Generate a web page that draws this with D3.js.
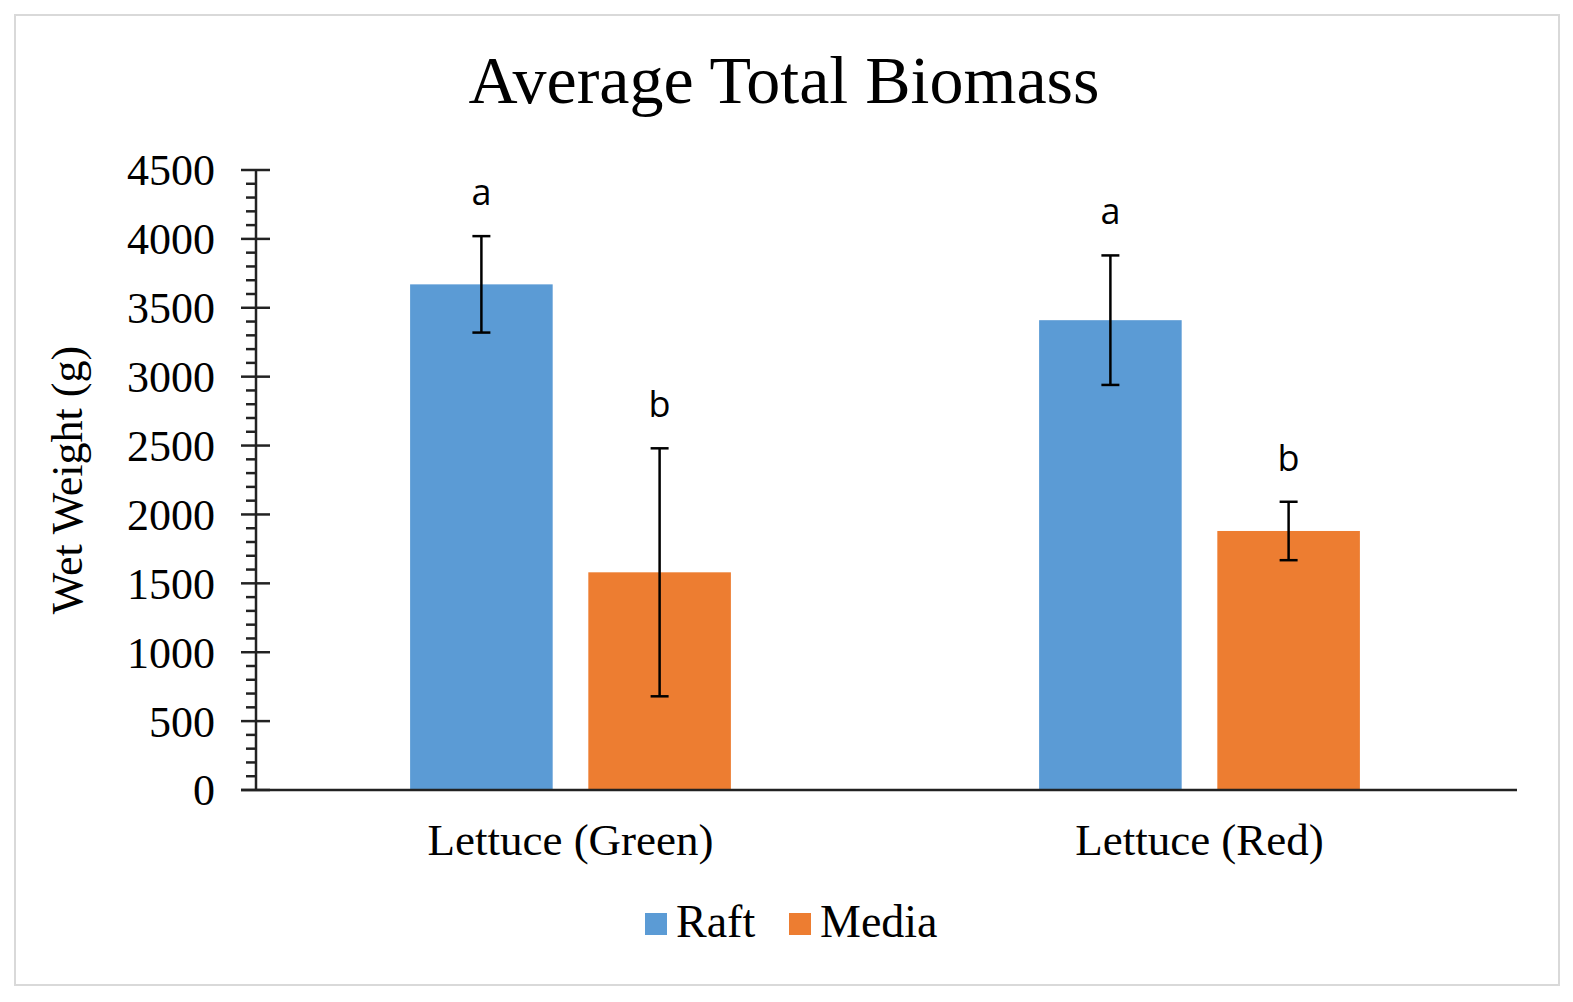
<!DOCTYPE html>
<html>
<head>
<meta charset="utf-8">
<script src="https://cdn.jsdelivr.net/npm/d3@7"></script>
<style>
  html, body { margin: 0; padding: 0; background: #fff; }
  text { font-family: "Liberation Serif", "Times New Roman", serif; fill: #000; }
</style>
</head>
<body>
<div id="chart"></div>
<script>

// Chart data

var categories = [ "Lettuce (Green)", "Lettuce (Red)" ];
var series = [ "Raft", "Media" ];
var colors = [ "#5b9bd5", "#ed7d31" ];
var raftValues = [ 3670, 3410 ];
var mediaValues = [ 1580, 1880 ];
var raftErrors = [ 350, 470 ];
var mediaErrors = [ 900, 212 ];
var raftLetters = [ "a", "a" ];
var mediaLetters = [ "b", "b" ];
var yTicks = [ 0, 500, 1000, 1500, 2000, 2500, 3000, 3500, 4000, 4500 ];

var rows = [];
categories.forEach( function ( c, i ) {
    rows.push({ cat: c, s: "Raft", v: raftValues[i], e: raftErrors[i], l: raftLetters[i] });
    rows.push({ cat: c, s: "Media", v: mediaValues[i], e: mediaErrors[i], l: mediaLetters[i] });
});

var width = 1573, height = 1002;
var plotLeft = 256, plotRight = 1514, plotTop = 170, plotBottom = 790;

var svg = d3.select("#chart").append("svg")
    .attr("width", width)
    .attr("height", height);

// Outer border

svg.append("rect")
    .attr("x", 15)
    .attr("y", 15)
    .attr("width", 1544)
    .attr("height", 970)
    .style("fill", "#fff")
    .style("stroke", "#d9d9d9")
    .style("stroke-width", 2);

// Scales

var x0 = d3.scaleBand()
    .domain(categories)
    .range([ plotLeft, plotRight ])
    .paddingInner(0.49)
    .paddingOuter(0.245);

var x1 = d3.scaleBand()
    .domain(series)
    .range([ 0, x0.bandwidth() ])
    .paddingInner(0.2);

var y = d3.scaleLinear()
    .domain([ 0, 4500 ])
    .range([ plotBottom, plotTop ]);

var color = d3.scaleOrdinal().domain(series).range(colors);

// Bars

svg.append("g")
    .selectAll("rect")
    .data(rows)
    .enter().append("rect")
    .attr("x", function ( d ) { return x0(d.cat) + x1(d.s); })
    .attr("y", function ( d ) { return y(d.v); })
    .attr("width", x1.bandwidth())
    .attr("height", function ( d ) { return y(0) - y(d.v); })
    .style("fill", function ( d ) { return color(d.s); });

// Error bars

var err = svg.append("g")
    .selectAll("g")
    .data(rows)
    .enter().append("g")
    .style("stroke", "#000")
    .style("stroke-width", 2.5);

var cx = function ( d ) { return x0(d.cat) + x1(d.s) + x1.bandwidth() / 2; };

err.append("line")
    .attr("x1", cx).attr("x2", cx)
    .attr("y1", function ( d ) { return y(d.v + d.e); })
    .attr("y2", function ( d ) { return y(d.v - d.e); });

err.append("line")
    .attr("x1", function ( d ) { return cx(d) - 9; })
    .attr("x2", function ( d ) { return cx(d) + 9; })
    .attr("y1", function ( d ) { return y(d.v + d.e); })
    .attr("y2", function ( d ) { return y(d.v + d.e); });

err.append("line")
    .attr("x1", function ( d ) { return cx(d) - 9; })
    .attr("x2", function ( d ) { return cx(d) + 9; })
    .attr("y1", function ( d ) { return y(d.v - d.e); })
    .attr("y2", function ( d ) { return y(d.v - d.e); });

// Significance letters

svg.append("g")
    .selectAll("text")
    .data(rows)
    .enter().append("text")
    .attr("x", cx)
    .attr("y", function ( d ) { return y(d.v + d.e) - 31; })
    .attr("text-anchor", "middle")
    .style("font-family", "'Open Sans', 'Liberation Sans', sans-serif")
    .style("font-size", "36px")
    .text(function ( d ) { return d.l; });

// Y axis

var minor = d3.range(0, 4501, 100).filter(function ( v ) { return v % 500 !== 0; });

var yAxis = svg.append("g")
    .attr("transform", "translate(" + plotLeft + ",0)");

yAxis.append("line")
    .attr("x1", 0).attr("x2", 0)
    .attr("y1", y(0)).attr("y2", y(4500))
    .style("stroke", "#222")
    .style("stroke-width", 2.5);

yAxis.selectAll(".minor")
    .data(minor)
    .enter().append("line")
    .attr("class", "minor")
    .attr("x1", -10).attr("x2", 0)
    .attr("y1", function ( d ) { return y(d); })
    .attr("y2", function ( d ) { return y(d); })
    .style("stroke", "#222")
    .style("stroke-width", 2.5);

yAxis.selectAll(".major")
    .data(yTicks)
    .enter().append("line")
    .attr("class", "major")
    .attr("x1", -15).attr("x2", 14)
    .attr("y1", function ( d ) { return y(d); })
    .attr("y2", function ( d ) { return y(d); })
    .style("stroke", "#222")
    .style("stroke-width", 2.5);

yAxis.selectAll(".label")
    .data(yTicks)
    .enter().append("text")
    .attr("class", "label")
    .attr("x", -41)
    .attr("y", function ( d ) { return y(d); })
    .attr("dy", "0.35em")
    .attr("text-anchor", "end")
    .style("font-size", "44px")
    .text(function ( d ) { return d; });

// X axis

svg.append("line")
    .attr("x1", plotLeft - 15)
    .attr("x2", plotRight + 3)
    .attr("y1", y(0))
    .attr("y2", y(0))
    .style("stroke", "#222")
    .style("stroke-width", 2.5);

svg.append("g")
    .selectAll("text")
    .data(categories)
    .enter().append("text")
    .attr("x", function ( d ) { return x0(d) + x0.bandwidth() / 2; })
    .attr("y", 855)
    .attr("text-anchor", "middle")
    .style("font-size", "45px")
    .text(function ( d ) { return d; });

// Titles

svg.append("text")
    .attr("x", 784)
    .attr("y", 103)
    .attr("text-anchor", "middle")
    .style("font-size", "68px")
    .text("Average Total Biomass");

svg.append("text")
    .attr("transform", "translate(82,480) rotate(-90)")
    .attr("text-anchor", "middle")
    .style("font-size", "44px")
    .text("Wet Weight (g)");

// Legend

var legendX = [ 645, 789 ];

var legend = svg.append("g")
    .selectAll("g")
    .data(series)
    .enter().append("g")
    .attr("transform", function ( d, i ) { return "translate(" + legendX[i] + ",0)"; });

legend.append("rect")
    .attr("x", 0)
    .attr("y", 913)
    .attr("width", 22)
    .attr("height", 22)
    .style("fill", function ( d ) { return color(d); });

legend.append("text")
    .attr("x", 31)
    .attr("y", 937)
    .style("font-size", "46px")
    .text(function ( d ) { return d; });

</script>
</body>
</html>
